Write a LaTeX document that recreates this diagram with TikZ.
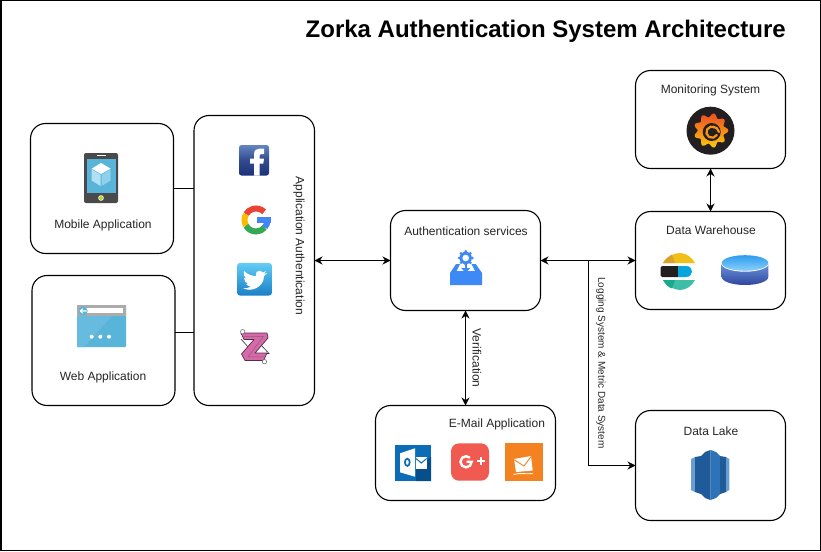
\documentclass[tikz,border=0pt]{standalone}
\usepackage{fontspec}
\setmainfont{Liberation Sans}
\usetikzlibrary{arrows.meta}
\definecolor{fbt}{HTML}{6485C4}
\definecolor{fbb}{HTML}{1C3277}
\definecolor{gred}{HTML}{EA4335}
\definecolor{gyel}{HTML}{FBBC05}
\definecolor{ggrn}{HTML}{34A853}
\definecolor{gblu}{HTML}{4285F4}
\definecolor{twt}{HTML}{62CDF5}
\definecolor{twb}{HTML}{1A7FC8}
\definecolor{zpink}{HTML}{D869A8}
\definecolor{zdark}{HTML}{5A2A4E}
\definecolor{azsky}{HTML}{59B4D9}
\definecolor{azpale}{HTML}{B3E0F2}
\definecolor{azmid}{HTML}{8FD0EC}
\definecolor{phone}{HTML}{4A4A4C}
\definecolor{authblue}{HTML}{3D8AF7}
\definecolor{olblue}{HTML}{0A6DB5}
\definecolor{oldark}{HTML}{074F8A}
\definecolor{gplus}{HTML}{F15A50}
\definecolor{hotm}{HTML}{F58220}
\definecolor{graf}{HTML}{231F20}
\definecolor{graft}{HTML}{EE4E23}
\definecolor{grafb}{HTML}{FBC90D}
\definecolor{rsa}{HTML}{205B99}
\definecolor{rsb}{HTML}{2E73B8}
\definecolor{rsc}{HTML}{6A9DD2}
\definecolor{elyel}{HTML}{F0BF1A}
\definecolor{eldy}{HTML}{D8A12B}
\definecolor{elblu}{HTML}{07A5DE}
\definecolor{elgrn}{HTML}{3EBEA8}
\definecolor{elteal}{HTML}{17A98E}
\definecolor{cyt}{HTML}{2D9CF0}
\definecolor{cyb}{HTML}{8CD0F8}
\definecolor{cst}{HTML}{6C95DD}
\definecolor{csb}{HTML}{2F469E}
\tikzset{
  x=1pt,y=-1pt,
  box/.style={draw=black,line width=1.1pt,rounded corners=15pt,inner sep=0pt,outer sep=0pt,fill=white},
  lbl/.style={font=\fontsize{12}{14}\selectfont,text=black!85,inner sep=0pt},
  conn/.style={draw=black,line width=1.1pt},
  biarr/.style={conn,{Stealth[length=8pt,width=8pt]}-{Stealth[length=8pt,width=8pt]}},
  toarr/.style={conn,-{Stealth[length=8pt,width=8pt]}}
}
\begin{document}
\begin{tikzpicture}
\useasboundingbox (0,0) rectangle (821,551);
\fill[white] (0,0) rectangle (821,551);
\draw[black,line width=1.5pt] (0.75,0.75) rectangle (820.25,550.25);

% boxes
\node[box,minimum width=143pt,minimum height=130pt] (mobile) at (102,188.5) {};
\node[box,minimum width=143pt,minimum height=130pt] (web) at (103.5,340.5) {};
\node[box,minimum width=120.5pt,minimum height=290pt] (app) at (254.25,260.5) {};
\node[box,minimum width=150pt,minimum height=100pt] (auth) at (465.5,260.5) {};
\node[box,minimum width=180pt,minimum height=95pt] (email) at (465.5,453) {};
\node[box,minimum width=150pt,minimum height=98pt] (mon) at (710.5,119.5) {};
\node[box,minimum width=150pt,minimum height=98pt] (dw) at (710.5,260.5) {};
\node[box,minimum width=150pt,minimum height=110pt] (lake) at (710.5,465.5) {};

% connectors
\coordinate (branch) at (588.5,260.5);
\coordinate (webout) at (175,332.5);
\draw[conn] (mobile.east) -- (app.west |- mobile.east);
\draw[conn] (webout) -- (app.west |- webout);
\draw[biarr] (app.east) -- (auth.west);
\draw[biarr] (auth.east) -- (dw.west);
\draw[toarr] (branch) |- (lake.west);
\draw[biarr] (auth.south) -- (email.north);
\draw[biarr] (mon.south) -- (dw.north);

% labels
\node[font=\bfseries\fontsize{24}{28}\selectfont,anchor=east,inner sep=0pt] (title) at (786,31.5) {Zorka Authentication System Architecture};
\node[lbl] (lmobile) at (103,225) {Mobile Application};
\node[lbl] (lweb) at (103,377) {Web Application};
\node[lbl] (lauth) at (466,231) {Authentication services};
\node[lbl] (lemail) at (497,424) {E-Mail Application};
\node[lbl] (lmon) at (710.5,90) {Monitoring System};
\node[lbl] (ldw) at (711,230) {Data Warehouse};
\node[lbl] (llake) at (711,431) {Data Lake};
\node[lbl,rotate=-90] (lapp) at (299,246) {Application Authentication};
\node[lbl,rotate=-90] (lver) at (477,358) {Verification};
\node[lbl,rotate=-90,font=\fontsize{10}{12}\selectfont] (llog) at (601,363) {Logging System \& Metric Data System};

% phone icon
\fill[phone,rounded corners=2pt] (84,153) rectangle (118,203);
\fill[azsky] (87,158.5) rectangle (116,193);
\draw[white,line width=1pt] (97,155.5) -- (106,155.5);
\fill[white] (101,198) circle (2.8);
\fill[yellow!70!green] (101,198) circle (2);
\fill[white] (101,163) -- (110.7,168.7) -- (101,174) -- (91.7,168.7) -- cycle;
\fill[azpale] (91.7,169.5) -- (100.5,174.7) -- (100.5,186) -- (91.7,180.5) -- cycle;
\fill[azmid] (110.7,169.5) -- (101.5,174.7) -- (101.5,186) -- (110.7,180.5) -- cycle;

% browser icon
\fill[azsky,rounded corners=1pt] (77,305) rectangle (126,347);
\fill[azmid!25!azsky] (77,316) -- (112,316) -- (84,347) -- (77,347) -- cycle;
\fill[black!33] (77,305) rectangle (126,316);
\fill[white] (86,308) rectangle (123,312.5);
\fill[azsky] (83,311) circle (4.6);
\draw[white,line width=1.1pt] (86.5,311) -- (80.3,311) (82.7,308.7) -- (80.3,311) -- (82.7,313.3);
\foreach \dx in {91.7,100.3,109} \fill[white] (\dx,336.7) circle (2);

% facebook icon
\begin{scope}[shift={(239,145)}]
\shade[top color=fbt,bottom color=fbb,middle color=fbb!70!fbt,rounded corners=2.5pt] (0,0) rectangle (30,30.5);
\fill[white] (15,30.5) -- (15,18.5) -- (11,18.5) -- (11,13.5) -- (15,13.5) -- (15,9)
  .. controls (15,5) and (18,3.5) .. (21,3.5) -- (25,3.5) -- (25,9) -- (22.5,9)
  .. controls (21,9) and (20.5,10) .. (20.5,11) -- (20.5,13.5) -- (25,13.5) -- (24.3,18.5) -- (20.5,18.5) -- (20.5,30.5) -- cycle;
\end{scope}

% google icon
\begin{scope}[shift={(256,220)},line width=6pt]
\draw[gred] (-45:11.5) arc[start angle=-45,end angle=-150,radius=11.5];
\draw[gyel] (-150:11.5) arc[start angle=-150,end angle=-210,radius=11.5];
\draw[ggrn] (-210:11.5) arc[start angle=-210,end angle=-320,radius=11.5];
\draw[gblu] (-320:11.5) arc[start angle=-320,end angle=-360,radius=11.5];
\fill[gblu] (0.5,-3) rectangle (14.5,3);
\end{scope}

% twitter icon
\begin{scope}[shift={(237,263)}]
\shade[top color=twt,bottom color=twb,rounded corners=3pt] (0,0) rectangle (35,32.5);
\fill[white] (6,25) .. controls (14,30) and (27,24) .. (27,13) -- (30,10) -- (27,11) -- (29,8) -- (26,9.5)
  .. controls (23,6) and (18,8) .. (19,13) .. controls (14,13) and (10,11) .. (7,8)
  .. controls (6,11) and (7,14) .. (9,15.5) -- (7,15) .. controls (7,18) and (9,20) .. (11,20.5)
  -- (9,21) .. controls (10,22.5) and (12,23.5) .. (14,23.5) .. controls (12,25) and (9,25.5) .. (6,25) -- cycle;
\end{scope}

% zorka icon
\draw[black!80,line width=.6pt] (241,339) -- (249,348) (261,345) -- (269,353.5) -- (265,353.5);
\draw[zdark,fill=zpink,line width=.7pt,line join=round] (241,333) -- (267,333) -- (268,338) -- (255,353) -- (267,353) -- (263.5,360.5) -- (245,360.5) -- (241.5,354) -- (254,339.5) -- (244,339.5) -- cycle;
\draw[zdark!75,line width=.5pt,line join=round] (243.5,336.3) -- (263.5,336.3) -- (248,356.8) -- (263.5,356.8);
\draw[black!55,fill=white,line width=.6pt] (242.7,331.7) circle (2.2) (264.5,361.7) circle (2.2);

% authentication services icon
\fill[authblue] (450,273) -- (456,264) -- (460,264) -- (456.5,271) -- (475,271) -- (471.5,264) -- (475.7,264) -- (482,273) -- (482,285) -- (450,285) -- cycle;
\fill[authblue] (465.7,258) circle (6.2);
\foreach \a in {0,45,...,315} \fill[authblue] (465.7,258) ++(\a:6.6) circle (1.5);
\fill[white] (465.7,258) circle (3.3);
\draw[authblue,line width=1.8pt] (465.7,263) -- (465.7,270);
\fill[authblue] (461.2,268) -- (470.2,268) -- (465.7,273) -- cycle;

% outlook icon
\fill[olblue] (395,445) rectangle (431,481);
\fill[oldark] (431,457) -- (431,481) -- (416,481) -- (416,470) -- cycle;
\fill[white] (400,453.3) -- (415,448.3) -- (415,476.7) -- (400,472.3) -- cycle;
\draw[olblue,line width=1.7pt] (407.3,462.3) ellipse (2.4 and 3.6);
\fill[white] (416,456.7) rectangle (426.7,469.3);
\draw[olblue,line width=1pt] (416,458.5) -- (421.3,463) -- (426.7,458.5);

% google plus icon
\fill[gplus,rounded corners=8pt] (451,443.3) rectangle (489,480.7);
\draw[white,line width=2.4pt] (470,457.8) arc[start angle=-45,end angle=-360,radius=5.6] -- (466.5,461.8);
\draw[white,line width=2pt] (477.3,461) -- (485,461) (481.1,457.3) -- (481.1,465);

% hotmail icon
\fill[hotm] (505,443.3) rectangle (542.7,480.7);
\fill[white] (514,459) -- (531,456) -- (532.7,470.5) -- (516,472) -- cycle;
\draw[hotm,line width=.9pt] (514,459.7) -- (524,466) -- (531,456.7);
\draw[white,line width=.9pt] (513.5,474.5) .. controls (520,472.5) and (526,474.5) .. (533,473.5);

% grafana icon
\fill[graf] (710.5,130.7) circle (24);
\path[top color=graft,bottom color=grafb] plot[domain=0:356,samples=90] ({711+(15.3+2*cos(9*\x))*cos(\x)},{130.5+(15.3+2*cos(9*\x))*sin(\x)}) -- cycle;
\fill[graf] (711.7,132) circle (9);
\draw[graft!40!grafb,line width=2.2pt,line cap=round] (716.8,135) arc[start angle=30,end angle=300,radius=5.6] (713,126.6) .. controls (716,127) and (718.5,129) .. (719,132);
\fill[graf] (711.7,132.2) circle (2);

% elastic icon
\fill[elyel] (663,263) .. controls (667,256) and (674,253) .. (680,253) .. controls (687,253) and (692,258) .. (695,263) -- cycle;
\fill[eldy] (663,263) .. controls (665,259.5) and (669,256) .. (672,254.5) -- (675,263) -- cycle;
\fill[graf,rounded corners=1.5pt] (660.7,266) rectangle (679,277);
\fill[elblu] (678,266) -- (686,266) .. controls (694,266) and (694,277) .. (686,277) -- (678,277) -- cycle;
\fill[elgrn] (663,280) -- (695,280) .. controls (692,286) and (686,290) .. (680,290) .. controls (674,290) and (667,286) .. (663,280) -- cycle;
\fill[elteal] (663,280) -- (675,280) -- (672,288.5) .. controls (668,287) and (665,284) .. (663,280) -- cycle;

% cylinder icon
\shade[top color=cst,bottom color=csb] (721.7,263) -- (721.7,277) arc[start angle=180,end angle=0,x radius=23.3,y radius=8] -- (768.3,263) -- cycle;
\draw[white,line width=1.4pt] (721.7,263) arc[start angle=180,end angle=0,x radius=23.3,y radius=8];
\shade[top color=cyt,bottom color=cyb] (745,263) ellipse (23.3 and 7.8);

% redshift icon
\fill[rsc] (691,459) -- (695,457) -- (695,492) -- (691,490) -- cycle;
\fill[rsa] (695,457) -- (701,456) -- (701,494) -- (695,492) -- cycle;
\fill[rsa] (701,456) -- (705,452) -- (710.5,450) -- (710.5,500) -- (705,498) -- (701,494) -- cycle;
\fill[rsb] (710.5,450) -- (716,452) -- (720,456) -- (720,494) -- (716,498) -- (710.5,500) -- cycle;
\fill[rsa] (720,456) -- (726,457) -- (726,492) -- (720,494) -- cycle;
\fill[rsc] (726,457) -- (729.3,459) -- (729.3,490) -- (726,492) -- cycle;
\end{tikzpicture}
\end{document}
